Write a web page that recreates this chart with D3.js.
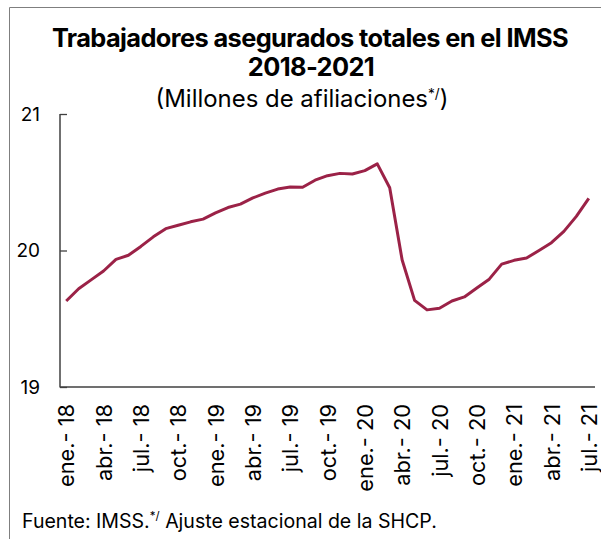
<!DOCTYPE html>
<html><head><meta charset="utf-8">
<script src="https://cdn.jsdelivr.net/npm/d3@7"></script>
<style>
html,body{margin:0;padding:0;background:#fff;}
svg{display:block;}
text{font-family:Inter,"Open Sans",sans-serif;fill:#000;}
</style></head>
<body>
<svg id="chart" width="601" height="539"></svg>
<script>
// ---- data ----
const months = ["ene.","feb.","mar.","abr.","may.","jun.","jul.","ago.","sep.","oct.","nov.","dic."];
const years = ["18","19","20","21"];
const categories = [];
years.forEach(y => months.forEach(m => categories.push(m + "- " + y)));
categories.splice(43); // ene.-18 .. jul.-21
const values = [
  19.63, 19.72, 19.785, 19.85, 19.935, 19.965, 20.03, 20.10, 20.16, 20.185, 20.21, 20.23,
  20.275, 20.315, 20.34, 20.385, 20.42, 20.45, 20.465, 20.463, 20.515, 20.548, 20.565, 20.56,
  20.585, 20.635, 20.46, 19.93, 19.635, 19.565, 19.577, 19.63, 19.66, 19.725, 19.79, 19.90,
  19.928, 19.945, 20.0, 20.057, 20.14, 20.25, 20.382
];
const tickLabels = categories.filter((c, i) => i % 3 === 0);
const yTicks = [19, 20, 21];
const titleLines = ["Trabajadores asegurados totales en el IMSS", "2018-2021"];

const svg = d3.select("#chart");

// frame border
svg.append("path").attr("d","M9.5,539V7.5H601").attr("fill","none").attr("stroke","#7f7f7f").attr("stroke-width",1);

const x = d3.scalePoint().domain(categories).range([60, 595]).padding(0.5);
const y = d3.scaleLinear().domain([19, 21]).range([387, 114]);

function fit(sel, target) {
  const n = sel.node();
  const w = n.getBBox().width;
  const k = target / w;
  const fs = parseFloat(sel.attr("font-size"));
  sel.attr("font-size", (fs * k).toFixed(2));
  sel.selectAll("tspan").each(function() {
    const t = d3.select(this);
    const f = t.attr("font-size");
    if (f) t.attr("font-size", (parseFloat(f) * k).toFixed(2));
    const dy = t.attr("dy");
    if (dy) t.attr("dy", (parseFloat(dy) * k).toFixed(2));
  });
}

// title
const t1 = svg.append("text").attr("x", 310).attr("y", 47).attr("text-anchor","middle")
  .attr("font-weight","bold").attr("font-size",24).attr("letter-spacing","-0.6").text(titleLines[0]);
fit(t1, 515);
const t2 = svg.append("text").attr("x", 311).attr("y", 76).attr("text-anchor","middle")
  .attr("font-weight","bold").attr("font-size", t1.attr("font-size")).attr("letter-spacing","-0.6").text(titleLines[1]);
const st = svg.append("text").attr("x", 302).attr("y", 107).attr("text-anchor","middle").attr("font-size",21);
st.append("tspan").text("(Millones de afiliaciones");
st.append("tspan").attr("dy",-8).attr("font-size",12).text("*/");
st.append("tspan").attr("dy",8).text(")");
fit(st, 293);

// y axis
const yAxis = svg.append("g").attr("transform","translate(60,0)")
  .call(d3.axisRight(y).tickValues(yTicks).tickSize(7).tickFormat(d3.format("d")));
yAxis.select(".domain").remove();
yAxis.selectAll(".tick line").attr("stroke","#404040").attr("stroke-width",1.3);
yAxis.selectAll(".tick text").attr("x",-20).attr("text-anchor","end")
  .attr("font-size",19).attr("font-family","Inter,'Open Sans',sans-serif").attr("fill","#000");

svg.append("line").attr("x1",60).attr("x2",60).attr("y1",114).attr("y2",387.5).attr("stroke","#404040").attr("stroke-width",1.5);

// x axis
const xAxis = svg.append("g").attr("transform","translate(0,387)")
  .call(d3.axisBottom(x).tickValues(tickLabels).tickSize(0));
xAxis.select(".domain").attr("stroke","#404040").attr("stroke-width",1.5).attr("d","M60,0H595");
xAxis.selectAll(".tick text")
  .attr("font-size",17).attr("font-family","Inter,'Open Sans',sans-serif").attr("fill","#000")
  .attr("text-anchor","end").attr("transform","rotate(-90)")
  .attr("x",-17).attr("y",0).attr("dy","0.35em");
{
  const first = xAxis.select(".tick text");
  const w = first.node().getComputedTextLength();
  const fs = 17 * 83 / w;
  xAxis.selectAll(".tick text").attr("font-size", fs.toFixed(2));
}

// line
svg.append("path").datum(values)
  .attr("fill","none").attr("stroke","#9b2247").attr("stroke-width",3).attr("stroke-linejoin","round")
  .attr("d", d3.line().x((d,i) => x(categories[i])).y(d => y(d)));

// footer
const ft = svg.append("text").attr("x",22).attr("y",528).attr("font-size",17);
ft.append("tspan").text("Fuente: IMSS.");
ft.append("tspan").attr("dy",-7).attr("font-size",10).text("*/");
ft.append("tspan").attr("dy",7).text(" Ajuste estacional de la SHCP.");
fit(ft, 415);
</script>
</body></html>
